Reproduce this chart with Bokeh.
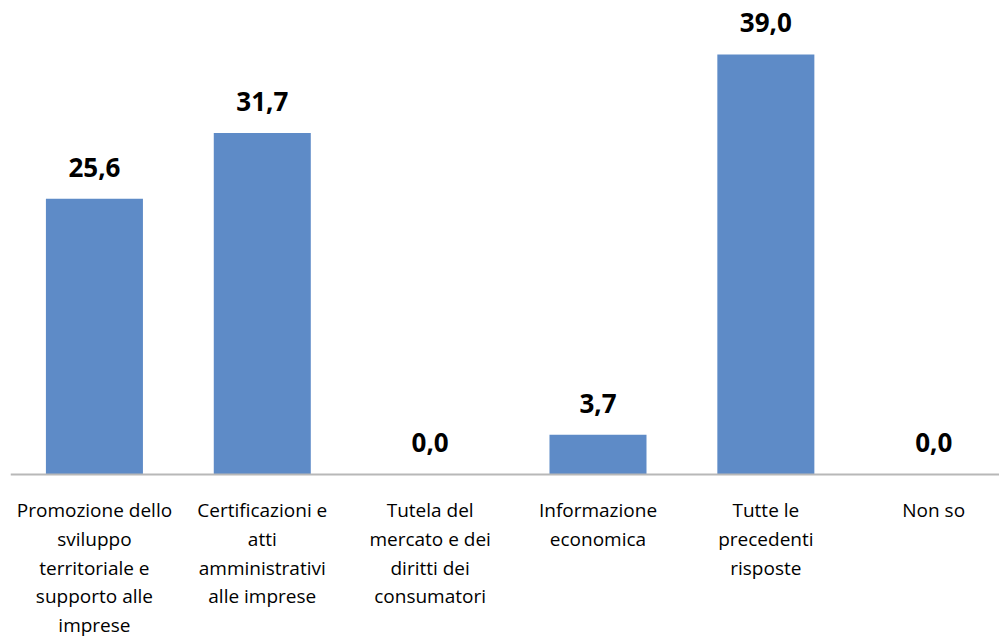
from bokeh.plotting import figure
from bokeh.models import Range1d, ColumnDataSource, LabelSet, Span
from bokeh.embed import file_html
from bokeh.resources import INLINE
from bokeh.core.properties import value

categories = [
    "Promozione dello\nsviluppo\nterritoriale e\nsupporto alle\nimprese",
    "Certificazioni e\natti\namministrativi\nalle imprese",
    "Tutela del\nmercato e dei\ndiritti dei\nconsumatori",
    "Informazione\neconomica",
    "Tutte le\nprecedenti\nrisposte",
    "Non so",
]
values = [25.6, 31.7, 0.0, 3.7, 39.0, 0.0]

xs = list(range(len(categories)))
labels = [f"{v:.1f}".replace(".", ",") for v in values]
src = ColumnDataSource(dict(x=xs, top=values, lab=labels, cat=categories, zero=[0] * len(xs)))

p = figure(width=999, height=642, output_backend="svg", toolbar_location=None,
           x_range=Range1d(-0.5, 5.392), y_range=Range1d(-15.60, 44.01))
p.min_border = 0
p.min_border_left = 10
p.outline_line_color = None
p.axis.visible = False
p.grid.visible = False
p.background_fill_color = "white"

p.vbar(x="x", top="top", width=0.578, source=src, fill_color="#5E8BC7", line_color=None)

p.add_layout(Span(location=0, dimension="width", line_color="#B8B8B8", line_width=2))

vl = LabelSet(x="x", y="top", text="lab", source=src, y_offset=22,
              text_align="center", text_baseline="alphabetic",
              text_font=value("Open Sans"), text_font_size="26px", text_font_style="bold",
              text_color="black")
p.add_layout(vl)

p.text(x="x", y="zero", text="cat", source=src, y_offset=23,
       text_align="center", text_baseline="top", text_font=value("Open Sans"),
       text_font_size="19px", text_line_height=1.1, text_color="#000000")

open("out.html", "w").write(file_html(p, INLINE))
